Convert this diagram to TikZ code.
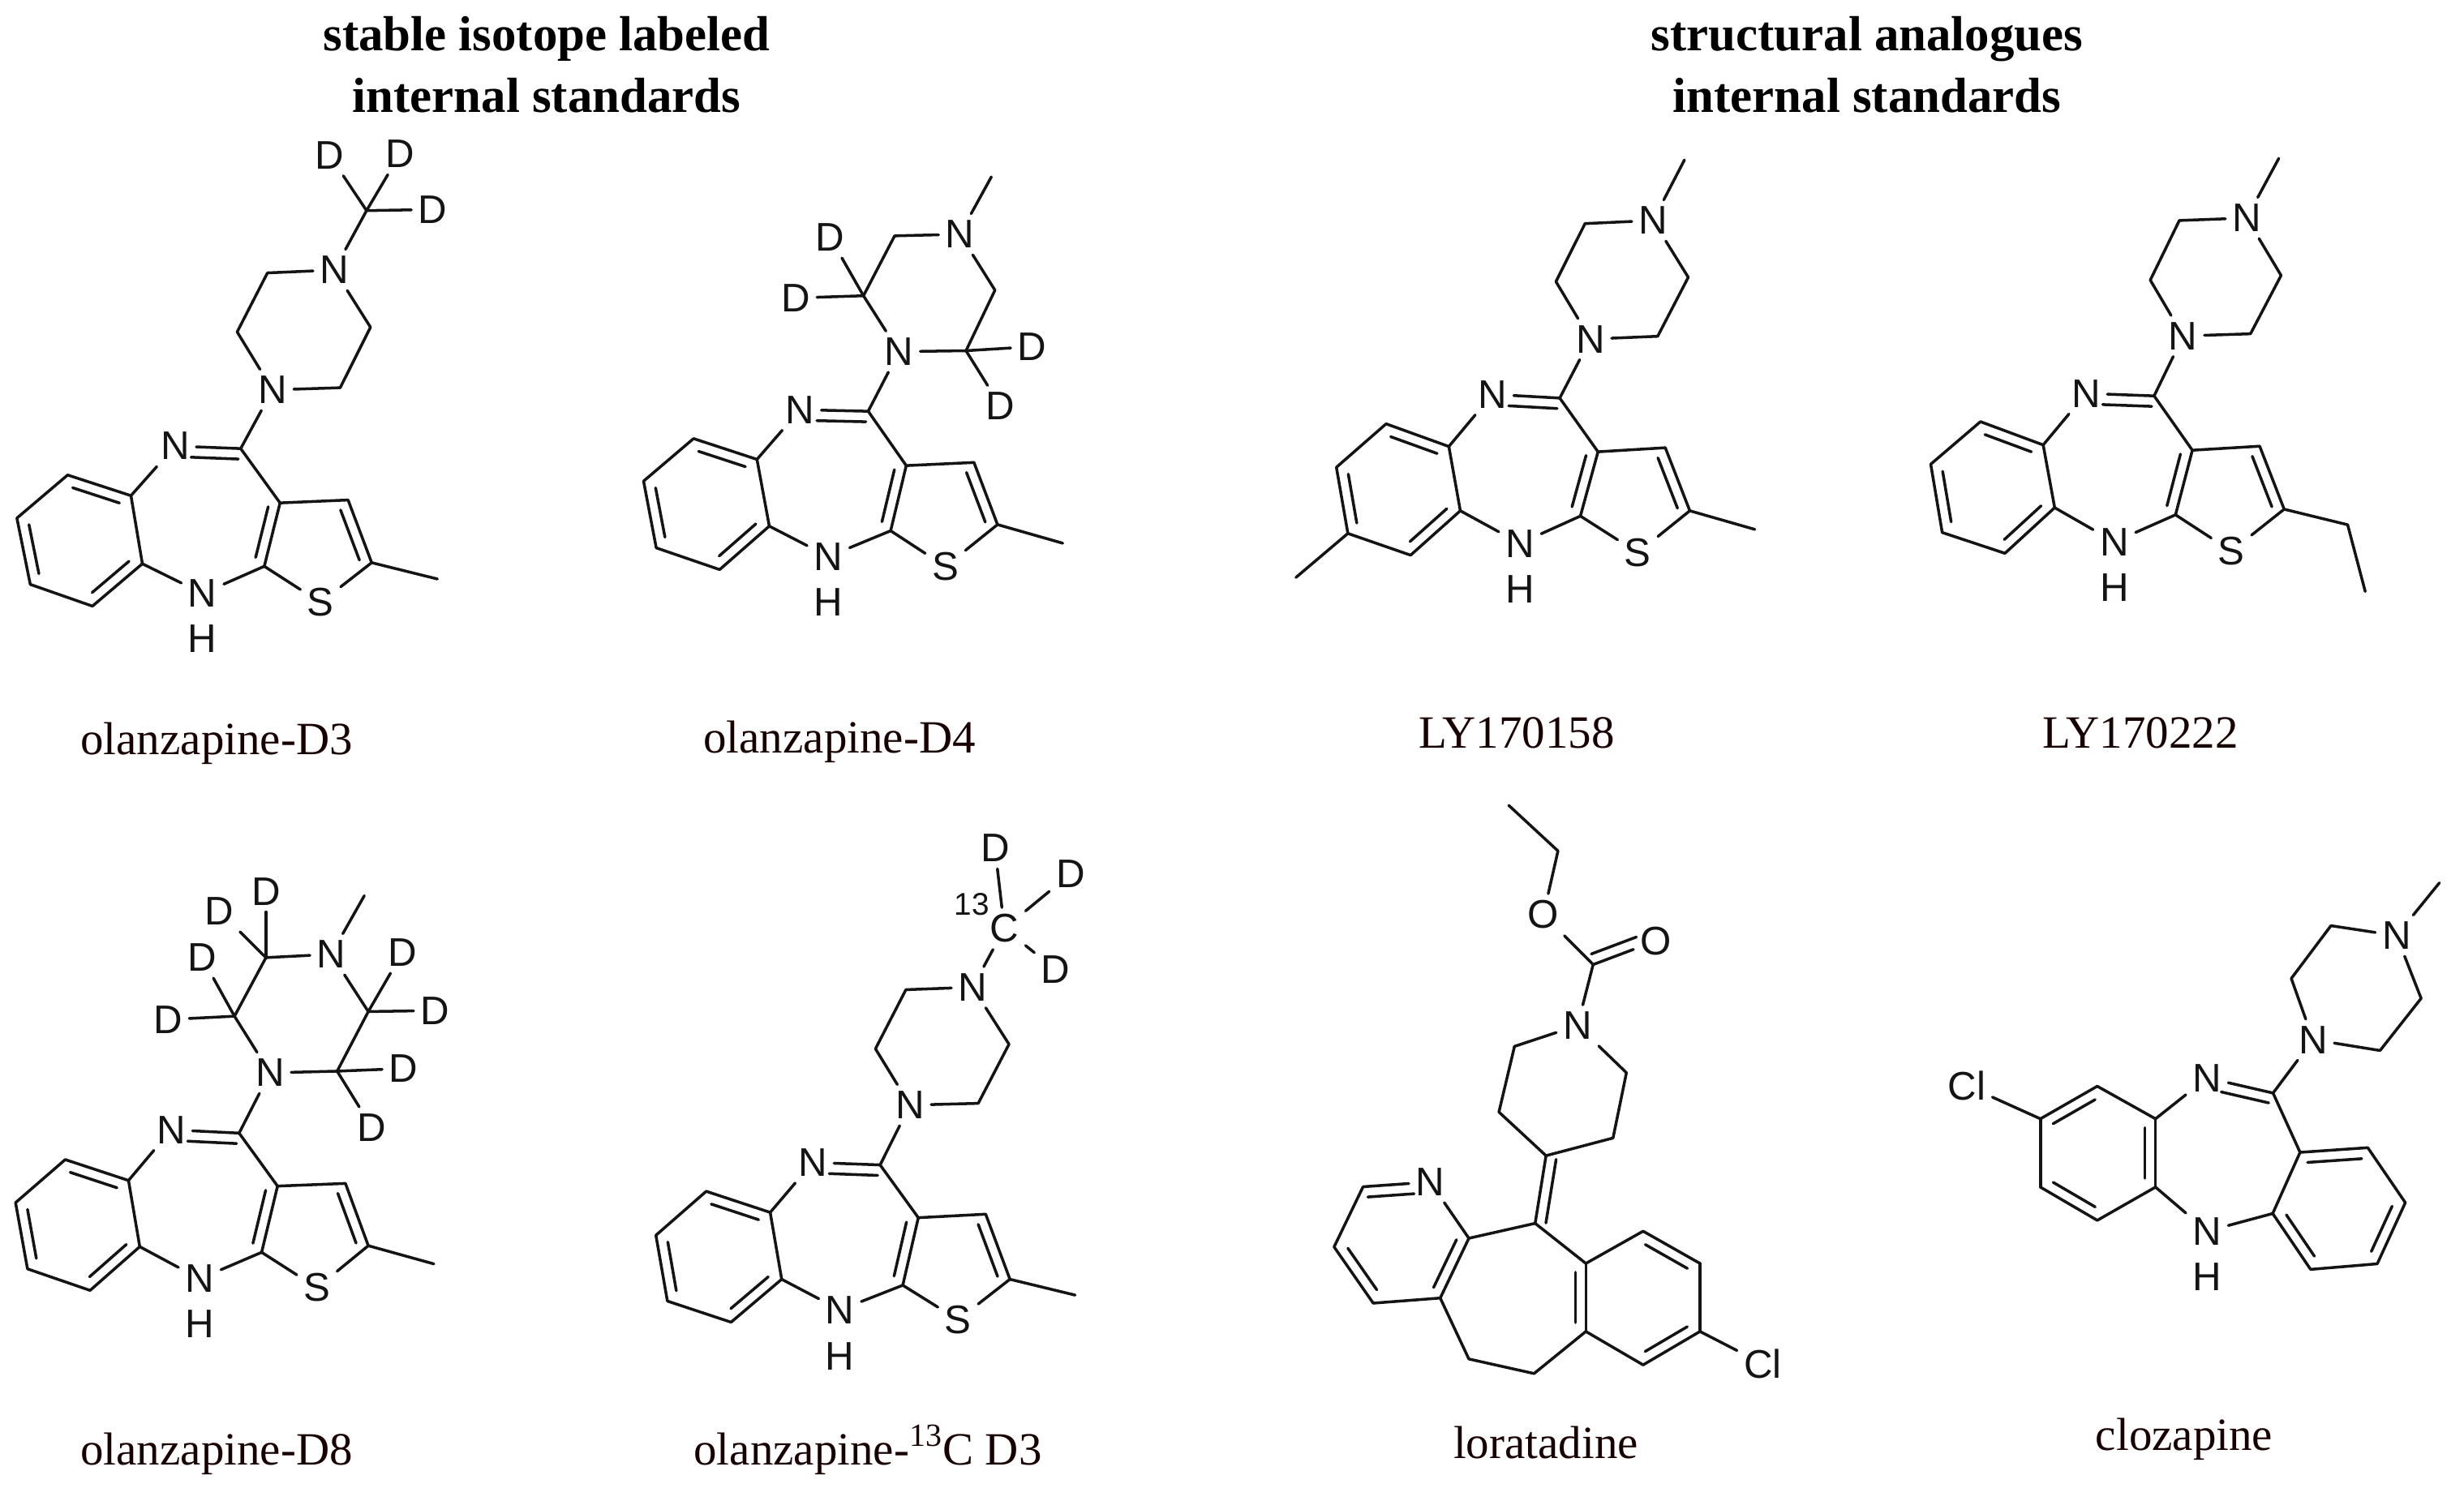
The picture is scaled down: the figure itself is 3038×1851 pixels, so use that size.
\documentclass[tikz,border=0pt]{standalone}
\usepackage{fontspec}
\setmainfont{Liberation Serif}
\newfontfamily\atomfont{Liberation Sans}
\usetikzlibrary{calc}
\tikzset{
  bond/.style={line width=1pt,line cap=round,line join=round,black!92},
  atom/.style={font=\atomfont\fontsize{14}{14}\selectfont,inner sep=2.2pt,text=black!92},
  isolabel/.style={font=\atomfont\fontsize{11}{11}\selectfont,inner sep=0pt,text=black!92},
  caption/.style={font=\fontsize{16.2}{18}\selectfont,anchor=base,inner sep=0pt,text=black!90!red},
  heading/.style={font=\bfseries\fontsize{17.3}{18}\selectfont,anchor=base,inner sep=0pt},
  mol/.style n args={5}{shift={(#1,#2)},x={#3/1568*0.28453pt},y={-#4/1568*0.28453pt},name prefix=#5-}
}
\newcommand{\pts}[1]{\foreach \n/\px/\py in {#1}{\coordinate (\n) at (\px,\py);}}
\newcommand{\atoms}[1]{\foreach \n/\t/\px/\py in {#1}{\node[atom] (\n) at (\px,\py) {\t};}}
\newcommand{\bonds}[1]{\foreach \a/\b in {#1}{\draw[bond] (\a) -- (\b);}}
% second line of a double bond, on the left of a->b, ends trimmed by the fractions
\newcommand{\inner}[1]{\foreach \a/\b/\p/\q in {#1}{\draw[bond] ($(\a)!\p!(\b)!3.7pt!90:(\b)$) -- ($(\b)!\q!(\a)!3.7pt!-90:(\a)$);}}
\newcommand{\corebonds}{%
  \bonds{b1/b2,b2/b3,b3/b4,b4/b5,b5/b6,b6/b1,b2/n1,n1/c4,c4/c5,c5/c6,c6/c7,c7/s,s/c8,c8/c5,c8/nh,nh/b3,c7/me,c4/n2,n2/p1,p1/p2,p2/n3,n3/p3,p3/p4,p4/n2}%
  \inner{b2/b1/.13/.13,b6/b5/.13/.13,b4/b3/.13/.13,c8/c5/.1/.1,c7/c6/.1/.1,c4/n1/.03/.25}%
}
\begin{document}
\begin{tikzpicture}[x=0.01cm,y=-0.01cm]
\useasboundingbox (0,0) rectangle (3038,1851);
% headings
\node[heading] (t1) at (674,62) {stable isotope labeled};
\node[heading] (t2) at (674,138) {internal standards};
\node[heading] (t3) at (2302,62) {structural analogues};
\node[heading] (t4) at (2302,138) {internal standards};
% captions
\node[caption] (l1) at (267,930) {olanzapine-D3};
\node[caption] (l2) at (1035,928) {olanzapine-D4};
\node[caption] (l3) at (1870,922) {LY170158};
\node[caption] (l4) at (2639,922) {LY170222};
\node[caption] (l5) at (267,1806) {olanzapine-D8};
\node[caption] (l6) at (1070,1806) {olanzapine-\textsuperscript{13}C D3};
\node[caption] (l7) at (1906,1798) {loratadine};
\node[caption] (l8) at (2693,1788) {clozapine};
% olanzapine-D3
\begin{scope}[mol={0}{140}{760}{700}{a}]
\pts{b1/172/998,b2/333/1055,b3/362/1243,b4/235/1360,b5/77/1300,b6/43/1117,c4/612/925,c5/712/1075,c6/885/1067,c7/945/1240,c8/672/1250,me/1112/1285,p1/603/603,p2/680/440,p3/942/590,p4/865/757,cd/932/268}
\atoms{n1/N/445/918,s/S/815/1350,nh/N/515/1325,h/H/515/1450,n2/N/693/763,n3/N/850/432,d1/D/838/115,d2/D/1017/112,d3/D/1100/265}
\corebonds
\bonds{n3/cd,cd/d1,cd/d2,cd/d3}
\end{scope}
% olanzapine-D4
\begin{scope}[mol={760}{220}{700}{600}{b}]
\pts{b1/213/838,b2/388/905,b3/422/1120,b4/285/1260,b5/110/1190,b6/75/975,c4/695/750,c5/800/925,c6/987/915,c7/1052/1115,c8/757/1135,me/1232/1175,p1/682/378,p2/768/185,p3/1045/360,p4/965/555,m2/1035/-5}
\atoms{n1/N/507/745,s/S/908/1250,nh/N/585/1218,h/H/585/1365,n2/N/780/558,n3/N/948/180,d1/D/590/190,d2/D/495/385,d3/D/1147/542,d4/D/1060/733}
\corebonds
\bonds{n3/m2,p1/d1,p1/d2,p4/d3,p4/d4}
\end{scope}
% olanzapine-D8
\begin{scope}[mol={0}{1040}{640}{640}{c}]
\pts{b1/197/955,b2/388/1018,b3/422/1218,b4/272/1350,b5/83/1285,b6/47/1085,c4/722/875,c5/838/1035,c6/1043/1027,c7/1112/1215,c8/790/1235,me/1310/1270,p1/708/522,p2/803/345,p3/1112/508,p4/1018/688,m2/1100/158}
\atoms{n1/N/517/865,s/S/957/1342,nh/N/603/1315,h/H/603/1450,n2/N/815/693,n3/N/1000/335,d1/D/803/145,d2/D/662/205,d3/D/610/345,d4/D/507/532,d5/D/1215/330,d6/D/1313/505,d7/D/1218/680,d8/D/1123/858}
\corebonds
\bonds{n3/m2,p2/d1,p2/d2,p1/d3,p1/d4,p3/d5,p3/d6,p4/d7,p4/d8}
\end{scope}
% olanzapine-13C D3
\begin{scope}[mol={780}{1020}{600}{680}{d}]
\pts{b1/237/1035,b2/443/1095,b3/480/1285,b4/317/1407,b5/112/1347,b6/75/1160,c4/797/960,c5/920/1110,c6/1137/1100,c7/1215/1285,c8/870/1302,me/1425/1330,p1/782/630,p2/880/462,p3/1212/617,p4/1113/785}
\atoms{n1/N/580/953,s/S/1048/1400,nh/N/668/1372,h/H/668/1505,n2/N/893/790,n3/N/1095/455,cd/C/1197/288,d1/D/1167/60,d2/D/1410/133,d3/D/1362/405}
\node[isolabel] (iso) at (1092,220) {13};
\corebonds
\bonds{n3/cd,cd/d1,cd/d2,cd/d3}
\end{scope}
% LY170158
\begin{scope}[mol={1560}{180}{1478}{600}{e}]
\pts{b1/158/895,b2/240/968,b3/255/1175,b4/190/1318,b5/108/1248,b6/93/1035,c4/385/812,c5/435/985,c6/523/972,c7/555/1175,c8/412/1192,me/640/1235,p1/380/437,p2/418/250,p3/553/423,p4/513/613,m2/548/45,m3/40/1390}
\atoms{n1/N/297/800,s/S/487/1310,nh/N/333/1280,h/H/333/1428,n2/N/425/622,n3/N/507/240}
\corebonds
\bonds{n3/m2,b5/m3}
\end{scope}
% LY170222
\begin{scope}[mol={1560}{180}{1478}{600}{f}]
\pts{b1/935/888,b2/1017/963,b3/1032/1165,b4/967/1312,b5/885/1245,b6/870/1025,c4/1162/805,c5/1212/980,c6/1300/967,c7/1332/1170,c8/1190/1188,me/1415/1220,p1/1157/432,p2/1195/240,p3/1328/417,p4/1288/605,m2/1325/40,m3/1438/1435}
\atoms{n1/N/1073/797,s/S/1263/1305,nh/N/1110/1275,h/H/1110/1422,n2/N/1200/612,n3/N/1283/232}
\corebonds
\bonds{n3/m2,me/m3}
\end{scope}
% loratadine
\begin{scope}[mol={1560}{980}{700}{760}{g}]
\pts{et1/672/27,et2/808/143,co/905/432,r1/688/640,r2/645/807,r3/775/918,r4/960/873,r5/997/707,c/745/1090,d1/562/1128,e1/270/997,e2/190/1150,e3/298/1293,e4/483/1280,br1/562/1435,br2/742/1472,f/885/1365,f1/885/1192,f2/1043/1110,f3/1200/1192,f4/1200/1365,f5/1043/1450}
\atoms{o1/O/768/305,o2/O/1078/372,n/N/862/587,np/N/455/985,cl/Cl/1373/1447}
\bonds{et1/et2,et2/o1,o1/co,co/o2,co/n,n/r1,r1/r2,r2/r3,r3/r4,r4/r5,r5/n,r3/c,c/d1,d1/np,np/e1,e1/e2,e2/e3,e3/e4,e4/d1,e4/br1,br1/br2,br2/f,f/f1,f1/c,f1/f2,f2/f3,f3/f4,f4/f5,f5/f,f4/cl}
\inner{co/o2/.03/.25,r3/c/.03/.03,np/e1/.25/.06,e2/e3/.13/.13,e4/d1/.1/.1,f/f1/.13/.13,f3/f2/.13/.13,f5/f4/.13/.13}
\end{scope}
% clozapine
\begin{scope}[mol={2360}{1060}{678}{600}{h}]
\pts{g1/360/835,g2/522/730,g3/688/835,g4/688/1055,g5/522/1162,g6/360/1055,c/1023/752,p1/1075/383,p2/1188/213,p3/1445/447,p4/1328/615,m2/1497/75,h1/1100/943,h2/1293/928,h3/1400/1105,h4/1320/1302,h5/1130/1320,h6/1022/1140}
\atoms{cl/Cl/150/728,n1/N/835/703,n2/N/1137/580,n3/N/1375/245,nh/N/835/1197,hh/H/835/1345}
\bonds{cl/g1,g1/g2,g2/g3,g3/g4,g4/g5,g5/g6,g6/g1,g3/n1,n1/c,c/n2,n2/p1,p1/p2,p2/n3,n3/p3,p3/p4,p4/n2,n3/m2,c/h1,h1/h2,h2/h3,h3/h4,h4/h5,h5/h6,h6/h1,h6/nh,nh/g4}
\inner{g2/g1/.13/.13,g6/g5/.13/.13,g4/g3/.13/.13,c/n1/.03/.25,h2/h1/.1/.1,h6/h5/.13/.13,h4/h3/.13/.13}
\end{scope}
\end{tikzpicture}
\end{document}
